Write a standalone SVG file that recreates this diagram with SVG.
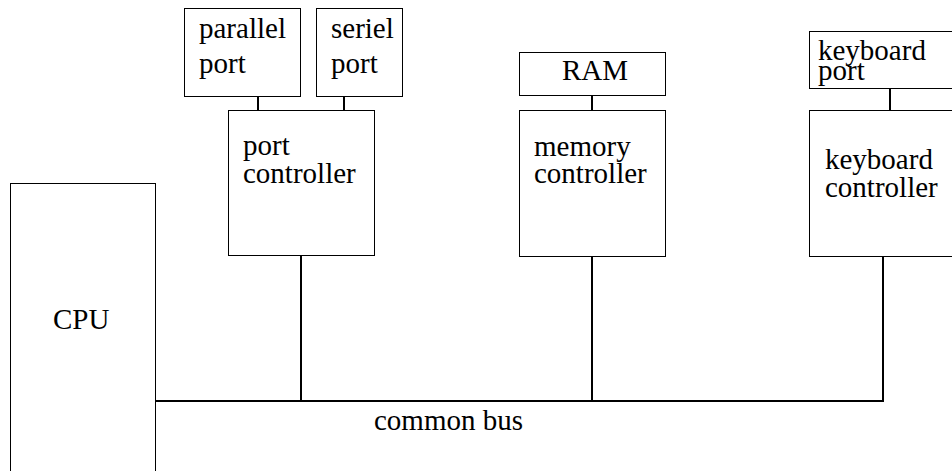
<svg xmlns="http://www.w3.org/2000/svg" width="952" height="471" viewBox="0 0 952 471">
<style>
.box{fill:#fff;stroke:#000;stroke-width:1}
.conn{stroke:#000;stroke-width:2;fill:none}
text{font-family:"Liberation Serif","Times New Roman",serif;font-size:29px;fill:#000}
</style>
<rect width="952" height="471" fill="#fff"/>
<g id="connectors">
<line class="conn" x1="258" y1="96" x2="258" y2="110"/>
<line class="conn" x1="344" y1="96" x2="344" y2="110"/>
<line class="conn" x1="301" y1="255" x2="301" y2="401"/>
<line class="conn" x1="592" y1="95" x2="592" y2="110"/>
<line class="conn" x1="592" y1="256" x2="592" y2="401"/>
<line class="conn" x1="890" y1="88" x2="890" y2="110"/>
<line class="conn" x1="883" y1="256" x2="883" y2="401"/>
<line class="conn" x1="156" y1="401" x2="884" y2="401"/>
</g>
<g id="parallel-port">
<rect class="box" x="184.5" y="8.5" width="116" height="88"/>
<text x="199" y="38">parallel</text>
<text x="199" y="73">port</text>
</g>
<g id="seriel-port">
<rect class="box" x="316.5" y="8.5" width="86" height="88"/>
<text x="331" y="38">seriel</text>
<text x="331" y="73">port</text>
</g>
<g id="port-controller">
<rect class="box" x="228.5" y="110.5" width="146" height="145"/>
<text x="243" y="155">port</text>
<text x="243" y="183">controller</text>
</g>
<g id="ram">
<rect class="box" x="519.5" y="52.5" width="146" height="43"/>
<text x="562" y="80">RAM</text>
</g>
<g id="memory-controller">
<rect class="box" x="519.5" y="110.5" width="146" height="146"/>
<text x="534" y="156">memory</text>
<text x="534" y="183">controller</text>
</g>
<g id="keyboard-port">
<rect class="box" x="809.5" y="31.5" width="200" height="57"/>
<text x="818" y="60">keyboard</text>
<text x="818" y="80">port</text>
</g>
<g id="keyboard-controller">
<rect class="box" x="809.5" y="110.5" width="200" height="146"/>
<text x="825" y="169">keyboard</text>
<text x="825" y="197">controller</text>
</g>
<g id="cpu">
<rect class="box" x="10.5" y="183.5" width="145" height="300"/>
<text x="53" y="329">CPU</text>
</g>
<g id="bus-label">
<text x="374" y="430">common bus</text>
</g>
</svg>
